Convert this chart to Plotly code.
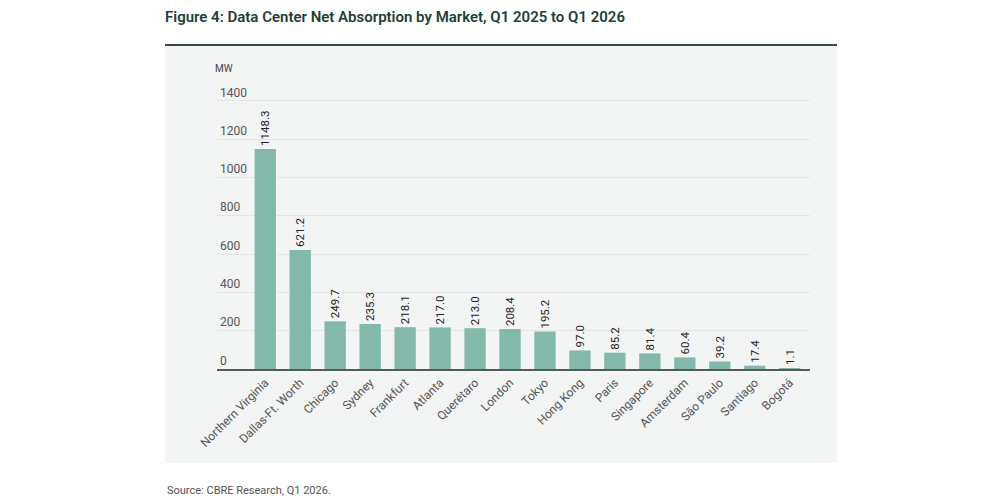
import plotly.graph_objects as go

markets = ["Northern Virginia", "Dallas-Ft. Worth", "Chicago", "Sydney", "Frankfurt",
           "Atlanta", "Querétaro", "London", "Tokyo", "Hong Kong", "Paris",
           "Singapore", "Amsterdam", "São Paulo", "Santiago", "Bogotá"]
absorption_mw = [1148.3, 621.2, 249.7, 235.3, 218.1, 217.0, 213.0, 208.4, 195.2,
                 97.0, 85.2, 81.4, 60.4, 39.2, 17.4, 1.1]
y_ticks = [0, 200, 400, 600, 800, 1000, 1200, 1400]

W, H = 1000, 500
L, R, T, B = 217, 810, 80, 369  # plot area in pixels

def px_x(p):
    return (p - L) / (R - L)

def px_y(p):
    return (B - p) / (B - T)

fig = go.Figure()
fig.add_trace(go.Bar(
    x=list(range(len(markets))),
    y=absorption_mw,
    marker=dict(color="#83b9ab", line=dict(width=0)),
    texttemplate="%{y:.1f}",
    textposition="outside",
    textangle=-90,
    constraintext="none",
    cliponaxis=False,
    textfont=dict(family="Roboto, Arial, sans-serif", size=11.5, color="#222222"),
    width=0.61,
    hoverinfo="skip",
))

ymax = 1400 * (B - T) / (B - 100.7)

fig.update_layout(
    width=W, height=H,
    margin=dict(l=L, r=W - R, t=T, b=H - B, pad=0),
    paper_bgcolor="white",
    plot_bgcolor="rgba(0,0,0,0)",
    showlegend=False,
    title=dict(
        text="Figure 4: Data Center Net Absorption by Market, Q1 2025 to Q1 2026",
        xref="container", yref="container", x=0.165, y=1 - 17 / H,
        xanchor="left", yanchor="middle",
        font=dict(family="Liberation Sans Narrow, Roboto, Arial, sans-serif", size=15,
                  color="#1c4037", weight=600),
    ),
    xaxis=dict(
        range=[-1.38, 15.58],
        tickmode="array",
        tickvals=list(range(len(markets))),
        ticktext=markets,
        tickangle=-45,
        showgrid=False,
        zeroline=False,
        showline=True, linecolor="#555a59", linewidth=2,
        ticks="",
        tickfont=dict(family="Roboto, Arial, sans-serif", size=12, color="#555555"),
    ),
    yaxis=dict(
        range=[0, ymax],
        tickmode="array",
        tickvals=y_ticks,
        ticktext=[str(v) for v in y_ticks],
        ticklabelposition="inside top",
        showgrid=True, gridcolor="#e2e5e4", gridwidth=1,
        zeroline=False,
        showline=False,
        ticks="",
        tickfont=dict(family="Roboto, Arial, sans-serif", size=12, color="#555555"),
    ),
    shapes=[
        dict(type="rect", xref="paper", yref="paper",
             x0=px_x(165), x1=px_x(837), y0=px_y(463), y1=px_y(45),
             fillcolor="#f3f4f4", line=dict(width=0), layer="below"),
        dict(type="line", xref="paper", yref="paper",
             x0=px_x(165), x1=px_x(837), y0=px_y(45), y1=px_y(45),
             line=dict(color="#3a4845", width=2), layer="above"),
    ],
    annotations=[
        dict(text="MW", xref="paper", yref="paper", x=px_x(224), y=px_y(68),
             xanchor="center", yanchor="middle", showarrow=False,
             font=dict(family="Roboto, Arial, sans-serif", size=10, color="#444444")),
        dict(text="Source: CBRE Research, Q1 2026.", xref="paper", yref="paper",
             x=px_x(165), y=px_y(490), xanchor="left", yanchor="middle", showarrow=False,
             font=dict(family="Roboto, Arial, sans-serif", size=11, color="#555555")),
    ],
)

fig.write_html("out.html")
